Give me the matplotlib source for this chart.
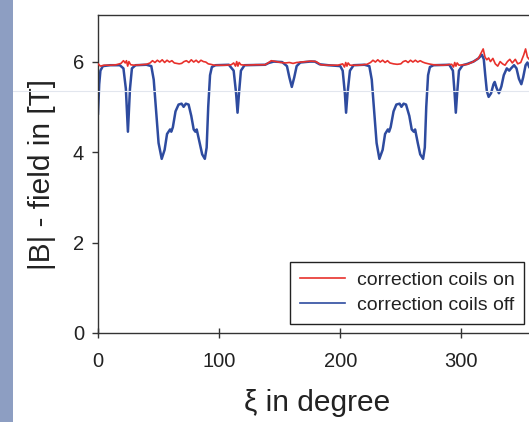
import matplotlib
matplotlib.use("Agg")
import matplotlib.pyplot as plt
from matplotlib.patches import Rectangle
from matplotlib.lines import Line2D

plt.rcParams['font.family'] = ['Liberation Sans', 'DejaVu Sans']

# ---- data ----
xi_off = [0, 1, 2, 4, 10, 18, 21, 23, 24.7, 26.4, 28, 31, 40, 44, 46, 48, 50, 52.6, 55, 57,
          59.5, 60.5, 61.8, 64, 66.5, 69, 70.7, 72.5, 74.8, 77, 79, 80.4, 81.5, 84, 86, 88.2,
          89.7, 91, 92.5, 94, 97, 108, 112, 114, 115.2, 116.4, 118, 121, 138, 141, 145, 152,
          156, 158, 160, 162, 164, 167, 175, 179, 183, 190, 200, 202, 203.8, 204.8, 206,
          208, 211, 220, 224, 226, 228, 230, 232.3, 235, 237, 239.3, 240.3, 241.6, 244,
          246.3, 249, 250.5, 252.3, 254.3, 257, 259, 260.7, 261.8, 264, 266, 268.4, 269.8,
          271, 272.5, 274, 277, 290, 293, 294.4, 295.4, 296.5, 298, 301, 305, 310, 314, 317,
          318.5, 319.7, 321, 322.5, 324.5, 326.5, 327.5, 329, 331, 333, 335, 337.5, 339.5,
          341, 343.5, 345.5, 347.5, 349.5, 351, 353, 354.5, 356, 358, 360]
b_off = [4.85, 5.5, 5.8, 5.9, 5.92, 5.92, 5.85, 5.4, 4.45, 5.4, 5.85, 5.92, 5.93, 5.9, 5.6,
         4.9, 4.2, 3.85, 4.05, 4.4, 4.5, 4.45, 4.55, 4.9, 5.05, 5.07, 5.0, 5.07, 5.05, 4.8, 4.5,
         4.45, 4.5, 4.2, 3.95, 3.85, 4.1, 5.0, 5.7, 5.88, 5.92, 5.93, 5.8, 5.3, 4.87, 5.3, 5.8,
         5.92, 5.93, 5.97, 6.0, 5.99, 5.9, 5.65, 5.44, 5.65, 5.9, 5.98, 6.0, 6.0, 5.94, 5.92,
         5.9, 5.8, 5.3, 4.87, 5.3, 5.8, 5.92, 5.93, 5.9, 5.6, 4.9, 4.2, 3.85, 4.05, 4.4, 4.5,
         4.45, 4.55, 4.9, 5.05, 5.07, 5.0, 5.07, 5.05, 4.8, 4.5, 4.45, 4.5, 4.2, 3.95, 3.85,
         4.1, 5.0, 5.7, 5.88, 5.92, 5.93, 5.8, 5.3, 4.87, 5.3, 5.8, 5.92, 5.95, 6.0, 6.07, 6.15,
         6.05, 5.7, 5.35, 5.22, 5.3, 5.5, 5.55, 5.42, 5.3, 5.45, 5.7, 5.85, 5.8, 5.85, 5.92,
         5.85, 5.62, 5.5, 5.65, 5.92, 5.98, 5.88, 5.8, 5.9]

xi_on = [0, 2, 5, 10, 15, 19, 21, 22.5, 23.5, 24.5, 25.5, 27, 30, 35, 40, 43, 45, 47, 49, 51,
         53, 55, 57, 59, 61, 63, 65, 67, 69, 71, 73, 75, 77, 79, 81, 83, 85, 87, 89, 91, 93,
         96, 100, 105, 110, 112, 113.5, 114.5, 115.5, 116.5, 118, 122, 130, 138, 141, 143, 147,
         151, 155, 158, 161, 164, 168, 172, 176, 180, 184, 190, 198, 202, 203.5, 204.5, 205.5,
         206.5, 208, 215, 222, 225, 227, 229, 231, 233, 235, 237, 239, 241, 244, 247, 250, 252,
         254, 256, 258, 260, 262, 264, 266, 268, 270, 273, 277, 285, 292, 293.5, 294.5, 295.5,
         296.5, 298, 305, 310, 314, 316.5, 318, 319.5, 321, 322.5, 324, 326, 328, 330, 332,
         334, 336, 338, 340, 342, 344.5, 346.5, 349, 351.5, 353, 354.5, 356, 358, 360]
b_on = [5.95, 5.9, 5.92, 5.92, 5.93, 5.96, 6.02, 5.97, 6.02, 5.9, 6.0, 5.93, 5.92, 5.93, 5.94,
        5.97, 6.02, 5.98, 6.03, 5.99, 6.04, 5.98, 6.03, 5.99, 6.02, 5.97, 5.96, 5.95, 5.96, 6.0,
        6.02, 5.98, 6.04, 5.99, 6.03, 5.98, 6.03, 6.0, 5.99, 5.95, 5.94, 5.92, 5.92, 5.92, 5.93,
        5.97, 5.9, 6.0, 5.9, 5.98, 5.93, 5.92, 5.93, 5.93, 5.98, 6.02, 6.0, 5.98, 5.97, 5.98,
        5.96, 5.98, 5.99, 6.0, 6.01, 6.0, 5.93, 5.92, 5.92, 5.95, 5.88, 5.98, 5.9, 5.97, 5.92,
        5.92, 5.94, 5.98, 6.03, 5.99, 6.04, 5.99, 6.03, 5.98, 6.02, 5.97, 5.95, 5.94, 5.95, 6.0,
        6.02, 5.98, 6.03, 5.99, 6.03, 5.99, 6.02, 5.99, 5.97, 5.95, 5.93, 5.92, 5.94, 5.88,
        5.98, 5.9, 5.97, 5.92, 5.94, 6.0, 6.07, 6.2, 6.28, 6.1, 6.04, 6.08, 6.0, 6.07, 5.95,
        5.9, 6.0, 5.95, 5.92, 6.0, 6.05, 5.97, 6.05, 5.95, 5.98, 6.15, 6.28, 6.1, 6.05, 6.2, 6.05]

x_ticks = [0, 100, 200, 300]
y_ticks = [0, 2, 4, 6]
labels = ['correction coils on', 'correction coils off']

# ---- figure ----
W, H = 529, 422
fig = plt.figure(figsize=(W / 100, H / 100), dpi=100)
fig.patch.set_facecolor('white')
fig.patches.append(Rectangle((0, 0), 13 / W, 1, transform=fig.transFigure,
                             facecolor='#8d9ec2', edgecolor='none', zorder=0))
fig.lines.append(Line2D([13 / W, 1], [1 - 91 / H, 1 - 91 / H], transform=fig.transFigure,
                        color='#e2e6ee', lw=0.8, zorder=0))

left, right = 98 / W, 536 / W
bottom, top = 1 - 333 / H, 1 - 15 / H
ax = fig.add_axes([left, bottom, right - left, top - bottom])
ax.set_facecolor('none')

red = '#e8312c'
blue = '#2e4b9f'
ax.plot(xi_on, b_on, color=red, lw=1.2, label=labels[0], zorder=3)
ax.plot(xi_off, b_off, color=blue, lw=1.8, label=labels[1], zorder=2)

ax.set_xlim(0, 361.6)
ax.set_ylim(0, 7.03)
ax.set_xticks(x_ticks)
ax.set_yticks(y_ticks)
ax.tick_params(axis='y', direction='out', length=4, width=1, color='#333333',
               labelsize=14.5, pad=6, labelcolor='#222222')
ax.tick_params(axis='x', direction='inout', length=7, width=1, color='#333333',
               labelsize=14.5, pad=10, labelcolor='#222222')
for s in ['left', 'bottom', 'top']:
    ax.spines[s].set_color('#333333')
    ax.spines[s].set_linewidth(1)
ax.spines['right'].set_visible(False)

ax.set_xlabel('ξ in degree', fontsize=21.5, labelpad=13, color='#222222')
ax.set_ylabel('|B| - field in [T]', fontsize=21.5, labelpad=12, color='#222222')

leg = ax.legend(loc='lower right', bbox_to_anchor=(524 / W, 1 - 324 / H),
                bbox_transform=fig.transFigure, borderaxespad=0, fontsize=14,
                frameon=True, fancybox=False, edgecolor='#222222', framealpha=1,
                handlelength=2.3, handletextpad=0.6, labelspacing=0.4, borderpad=0.5)
leg.get_frame().set_linewidth(1)
for t in leg.get_texts():
    t.set_color('#222222')
leg.get_lines()[0].set_linewidth(1.2)
leg.get_lines()[1].set_linewidth(1.2)

fig.savefig('out.png', dpi=100)
